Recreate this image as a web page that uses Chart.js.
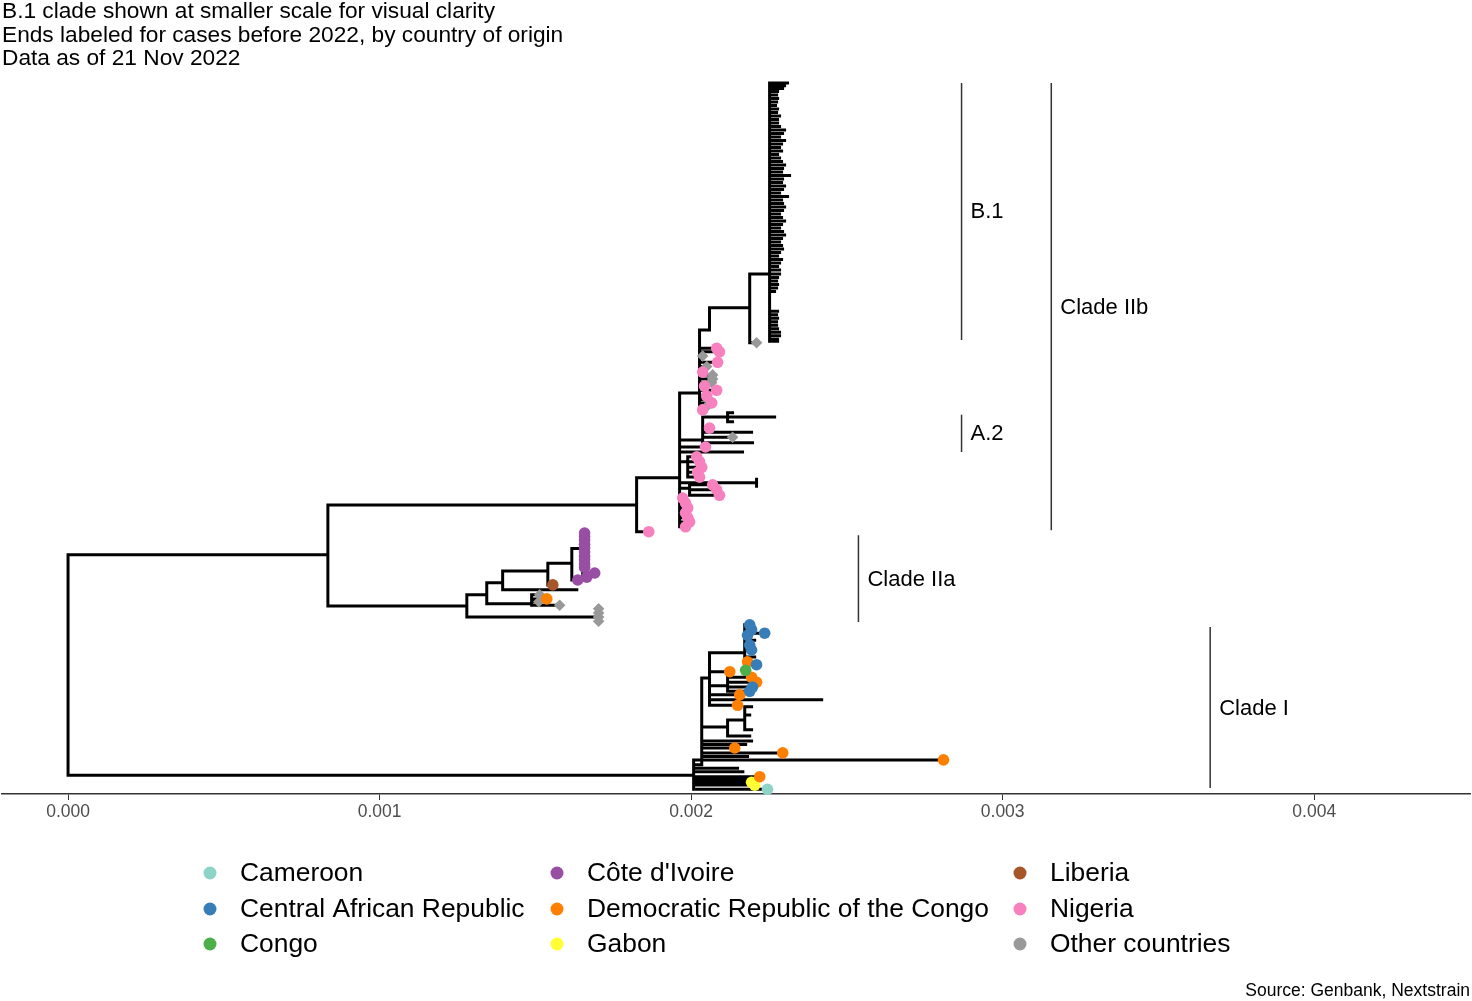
<!DOCTYPE html>
<html lang="en">
<head>
<meta charset="UTF-8">
<title>Mpox phylogeny by country of origin</title>
<style>
  body { margin: 0; background: #fff; }
  #wrap { width: 1472px; height: 1001px; }
</style>
<script src="https://cdn.jsdelivr.net/npm/chart.js"></script>
</head>
<body>
<div id="wrap"><canvas id="tree" width="1472" height="1001"></canvas></div>
<script>
// ---- text ----
const subtitleLines = [
  'B.1 clade shown at smaller scale for visual clarity',
  'Ends labeled for cases before 2022, by country of origin',
  'Data as of 21 Nov 2022'
];
const sourceText = 'Source: Genbank, Nextstrain';
const xTicks = [0, 0.001, 0.002, 0.003, 0.004];

// ---- tree: vertical connectors [x, yLow, yHigh] ----
const vLines = [
  [0, 2.1, 33.6],
  [0.000834, 26.3, 40.7],
  // clade IIa
  [0.001280, 24.7, 27.9],
  [0.001697, 24.1, 25.9],
  [0.001344, 26.6, 29.6],
  [0.001488, 26.4, 27.9],
  [0.001395, 28.6, 31.3],
  [0.001540, 29.3, 32.4],
  [0.001617, 30.0, 34.5],
  [0.001652, 30.4, 36.7],
  // clade IIb
  [0.001825, 36.9, 44.6],
  [0.001963, 37.6, 56.7],
  [0.002027, 54.3, 65.7],
  [0.002059, 65.7, 68.9],
  [0.002188, 63.9, 73.7],
  [0.0022518, 64.1, 101.0],
  [0.002037, 49.6, 53.3],
  [0.002117, 52.6, 53.9],
  [0.001989, 44.7, 47.6],
  [0.001995, 42.1, 43.6],
  [0.002210, 43.4, 44.4],
  // clade I
  [0.002008, 0.1, 4.3],
  [0.002034, 3.6, 16.0],
  [0.002117, 7.7, 10.0],
  [0.002172, 8.6, 11.9],
  [0.002059, 12.1, 19.6],
  [0.002117, 14.1, 16.1],
  [0.002172, 17.1, 23.6]
];

// ---- tree: horizontal branches [y, xStart, xEnd] ----
const hLines = [
  [33.6, 0, 0.000834],
  [2.1, 0, 0.002008],
  [40.7, 0.000834, 0.001825],
  // clade IIa
  [26.3, 0.000834, 0.001280],
  [24.7, 0.001280, 0.001697],
  [25.9, 0.001697, 0.001703], [25.3, 0.001697, 0.001703], [24.7, 0.001697, 0.001703], [24.1, 0.001697, 0.001703],
  [27.9, 0.001280, 0.001344],
  [26.6, 0.001344, 0.001488],
  [27.9, 0.001488, 0.001514], [27.3, 0.001488, 0.0015365], [26.9, 0.001488, 0.001511], [26.4, 0.001488, 0.001578],
  [29.6, 0.001344, 0.001395],
  [28.6, 0.001395, 0.001633],
  [31.3, 0.001395, 0.001540],
  [29.3, 0.001540, 0.001556],
  [32.4, 0.001540, 0.001617],
  [30.0, 0.001617, 0.001636],
  [34.5, 0.001617, 0.001652],
  [31.0, 0.001652, 0.0016905],
  [30.4, 0.001652, 0.001665],
  // clade IIb backbone
  [36.9, 0.001825, 0.001864],
  [44.6, 0.001825, 0.001963],
  [56.7, 0.001963, 0.002027],
  [65.7, 0.002027, 0.002059],
  [68.9, 0.002059, 0.002188],
  [63.9, 0.002188, 0.002210],
  [73.7, 0.002188, 0.0022518],
  // tips near the B.1 stem
  [63.1, 0.002027, 0.002082], [62.6, 0.002027, 0.002091], [62.0, 0.002027, 0.002037],
  [61.1, 0.002027, 0.002085], [60.5, 0.002027, 0.002050], [59.7, 0.002027, 0.002037],
  [59.3, 0.002027, 0.002069], [58.7, 0.002027, 0.002069], [58.2, 0.002027, 0.002066],
  [57.7, 0.002027, 0.002043], [57.1, 0.002027, 0.002082], [56.3, 0.002027, 0.002050],
  [55.8, 0.002027, 0.002053], [55.3, 0.002027, 0.002066], [54.8, 0.002027, 0.002050],
  [54.3, 0.002027, 0.002037],
  // A.2 and lower IIb
  [50.0, 0.001963, 0.002037],
  [53.3, 0.002037, 0.002268],
  [53.9, 0.002117, 0.002133], [52.6, 0.002117, 0.002133],
  [51.7, 0.002037, 0.002059],
  [51.1, 0.002037, 0.002194],
  [50.4, 0.002037, 0.002133],
  [49.6, 0.002037, 0.002197],
  [49.0, 0.001963, 0.002046],
  [48.3, 0.001963, 0.002165],
  [46.9, 0.001963, 0.001989],
  [47.6, 0.001989, 0.002018], [46.9, 0.001989, 0.002027], [46.1, 0.001989, 0.002034],
  [45.4, 0.001989, 0.002021], [44.7, 0.001989, 0.002027],
  [43.9, 0.001963, 0.002210],
  [43.1, 0.001963, 0.001995],
  [43.6, 0.001995, 0.002069], [42.9, 0.001995, 0.002082], [42.1, 0.001995, 0.002091],
  [41.7, 0.001963, 0.001973], [41.0, 0.001963, 0.001982], [40.3, 0.001963, 0.001989],
  [39.6, 0.001963, 0.001982], [38.9, 0.001963, 0.001989], [38.3, 0.001963, 0.001995],
  [37.6, 0.001963, 0.001982],
  // clade I
  [4.3, 0.002008, 0.002810],
  [3.6, 0.002008, 0.002034],
  [3.1, 0.002008, 0.002149],
  [2.6, 0.002008, 0.002166],
  [1.9, 0.002008, 0.002220],
  [1.5, 0.002008, 0.002181],
  [1.1, 0.002008, 0.002194],
  [0.7, 0.002008, 0.002204],
  [0.1, 0.002008, 0.002245],
  [5.3, 0.002034, 0.002294],
  [4.8, 0.002034, 0.002181],
  [6.0, 0.002034, 0.002140],
  [6.5, 0.002034, 0.002175],
  [7.0, 0.002034, 0.002194],
  [9.0, 0.002034, 0.002117],
  [16.0, 0.002034, 0.002059],
  [10.0, 0.002117, 0.002172],
  [7.7, 0.002117, 0.002188],
  [11.9, 0.002172, 0.002194], [10.7, 0.002172, 0.002188], [8.6, 0.002172, 0.002194],
  [12.1, 0.002059, 0.002149],
  [12.9, 0.002059, 0.002419],
  [13.6, 0.002059, 0.002156],
  [14.9, 0.002059, 0.002117],
  [16.1, 0.002117, 0.002194], [15.4, 0.002117, 0.002210], [14.7, 0.002117, 0.002197], [14.1, 0.002117, 0.002188],
  [16.9, 0.002059, 0.002124],
  [19.6, 0.002059, 0.002172],
  [23.6, 0.002172, 0.002188], [22.9, 0.002172, 0.002194], [22.4, 0.002172, 0.002236],
  [22.1, 0.002172, 0.002181], [21.4, 0.002172, 0.002204], [20.7, 0.002172, 0.002188],
  [20.0, 0.002172, 0.002194], [19.0, 0.002172, 0.002204], [18.3, 0.002172, 0.002181],
  [17.9, 0.002172, 0.002210], [17.1, 0.002172, 0.002175]
];

// B.1 tips hanging off the stem at x = 0.0022518: [y, xEnd]
const b1Stem = 0.0022518;
const b1Tips = [
  [101.0, 0.0023095], [100.6, 0.0023000], [100.2, 0.0022935], [99.8, 0.0022775],
  [99.3, 0.0022743], [98.8, 0.0022775], [98.3, 0.0022743], [97.8, 0.0022710],
  [97.3, 0.0022775], [96.8, 0.0022743], [96.3, 0.0022839], [95.8, 0.0022775],
  [95.3, 0.0022775], [94.8, 0.0022839], [94.3, 0.0023000], [93.8, 0.0022935],
  [93.3, 0.0022839], [92.8, 0.0023000], [92.3, 0.0022903], [91.8, 0.0022839],
  [91.3, 0.0022903], [90.8, 0.0022775], [90.3, 0.0022839], [89.8, 0.0022903],
  [89.3, 0.0023000], [88.8, 0.0022935], [88.3, 0.0022903], [87.8, 0.0023160],
  [87.3, 0.0022935], [86.8, 0.0022903], [86.3, 0.0023000], [85.8, 0.0022935],
  [85.3, 0.0022839], [84.8, 0.0023095], [84.3, 0.0022903], [83.8, 0.0022935],
  [83.3, 0.0023000], [82.8, 0.0022935], [82.3, 0.0022839], [81.8, 0.0022903],
  [81.3, 0.0023000], [80.8, 0.0022903], [80.3, 0.0022839], [79.8, 0.0022935],
  [79.3, 0.0023000], [78.8, 0.0022903], [78.3, 0.0022839], [77.8, 0.0022903],
  [77.3, 0.0022935], [76.8, 0.0022839], [76.3, 0.0022775], [75.8, 0.0022903],
  [75.3, 0.0022839], [74.8, 0.0022775], [74.3, 0.0022839], [73.7, 0.0022839],
  [73.2, 0.0022775], [72.7, 0.0022743], [72.2, 0.0022775], [71.7, 0.0022743],
  [71.2, 0.0022678],
  [68.4, 0.0022775], [67.9, 0.0022743], [67.4, 0.0022775], [66.9, 0.0022743],
  [66.4, 0.0022743], [65.9, 0.0022775], [65.4, 0.0022839], [64.9, 0.0022839],
  [64.4, 0.0022775], [64.1, 0.0022775]
];

// ---- tip points by country of origin [x, y] ----
const countries = ['Cameroon', 'Central African Republic', 'Congo',
  "Côte d'Ivoire", 'Democratic Republic of the Congo', 'Gabon',
  'Liberia', 'Nigeria', 'Other countries'];
const countryColors = ['#8DD3C7', '#377EB8', '#4DAF4A', '#984EA3', '#FF7F00',
  '#FFFF33', '#A65628', '#F781BF', '#999999'];

const tipsCameroon = [[0.002245, 0.1]];
const tipsCAR = [[0.002197, 14.7], [0.002188, 14.1], [0.002188, 23.6], [0.002194, 22.9],
  [0.002236, 22.4], [0.002181, 22.1], [0.002188, 20.7], [0.002194, 20.0], [0.002210, 17.9]];
const tipsCongo = [[0.002175, 17.1]];
const tipsCoteDIvoire = [[0.001636, 30.0], [0.0016905, 31.0], [0.001665, 30.4],
  [0.001658, 36.7], [0.001658, 36.2], [0.001658, 35.7], [0.001658, 35.1], [0.001658, 34.6],
  [0.001658, 34.0], [0.001658, 33.4], [0.001658, 32.9], [0.001658, 32.3], [0.001658, 31.8]];
const tipsDRC = [[0.0015365, 27.3], [0.002810, 4.3], [0.002220, 1.9], [0.002294, 5.3],
  [0.002140, 6.0], [0.002149, 12.1], [0.002156, 13.6], [0.002194, 16.1], [0.002210, 15.4],
  [0.002124, 16.9], [0.002181, 18.3]];
const tipsGabon = [[0.002194, 1.1], [0.002204, 0.7]];
const tipsLiberia = [[0.001556, 29.3]];
const tipsNigeria = [[0.001864, 36.9],
  [0.002082, 63.1], [0.002091, 62.6], [0.002085, 61.1], [0.002037, 59.7], [0.002043, 57.7],
  [0.002082, 57.1], [0.002050, 56.3], [0.002066, 55.3], [0.002037, 54.3],
  [0.002059, 51.7], [0.002046, 49.0],
  [0.002018, 47.6], [0.002027, 46.9], [0.002034, 46.1], [0.002021, 45.4], [0.002027, 44.7],
  [0.002069, 43.6], [0.002082, 42.9], [0.002091, 42.1],
  [0.001973, 41.7], [0.001982, 41.0], [0.001989, 40.3], [0.001982, 39.6], [0.001989, 38.9],
  [0.001995, 38.3], [0.001982, 37.6]];
const tipsOther = [[0.001703, 25.9], [0.001703, 25.3], [0.001703, 24.7], [0.001703, 24.1],
  [0.001514, 27.9], [0.001511, 26.9], [0.001578, 26.4],
  [0.002210, 63.9], [0.002037, 62.0], [0.002050, 60.5], [0.002069, 59.3], [0.002069, 58.7],
  [0.002066, 58.2], [0.002053, 55.8], [0.002050, 54.8], [0.002133, 50.4]];
const countryTips = [tipsCameroon, tipsCAR, tipsCongo, tipsCoteDIvoire, tipsDRC,
  tipsGabon, tipsLiberia, tipsNigeria, tipsOther];

// ---- clade brackets ----
const cladeNames = ['B.1', 'A.2', 'Clade IIb', 'Clade IIa', 'Clade I'];
const cladeX = [0.002868, 0.002868, 0.003156, 0.002537, 0.003666];
const cladeYLow = [64.3, 48.3, 37.1, 24.0, 0.3];
const cladeYHigh = [101.0, 53.6, 101.0, 36.4, 23.3];
const cladeLabelY = [82.6, 50.9, 68.9, 30.0, 11.6];

// ---- build line data (null breaks the path between segments) ----
const treeSegs = [];
vLines.forEach(([x, y0, y1]) => treeSegs.push({x: x, y: y0}, {x: x, y: y1}, {x: x, y: null}));
hLines.forEach(([y, x0, x1]) => treeSegs.push({x: x0, y: y}, {x: x1, y: y}, {x: x1, y: null}));
b1Tips.forEach(([y, x1]) => treeSegs.push({x: b1Stem, y: y}, {x: x1, y: y}, {x: x1, y: null}));

const cladeSegs = [];
cladeX.forEach((x, i) => cladeSegs.push({x: x, y: cladeYLow[i]}, {x: x, y: cladeYHigh[i]}, {x: x, y: null}));

const FONT = '"Liberation Sans", Arial, sans-serif';

const datasets = [
  {
    label: 'tree', data: treeSegs, borderColor: '#000', borderWidth: 3,
    pointRadius: 0, spanGaps: false, tension: 0, borderCapStyle: 'square',
    borderJoinStyle: 'miter', clip: false, order: 5
  },
  {
    label: 'clades', data: cladeSegs, borderColor: '#333', borderWidth: 1.5,
    pointRadius: 0, spanGaps: false, tension: 0, clip: false, order: 6
  }
];
countries.forEach((name, i) => {
  datasets.push({
    label: name,
    data: countryTips[i].map(([x, y]) => ({x: x, y: y})),
    showLine: false,
    pointRadius: 5.8,
    pointHoverRadius: 5.8,
    pointStyle: name === 'Other countries' ? 'rectRot' : 'circle',
    backgroundColor: countryColors[i],
    borderWidth: 0,
    clip: false,
    order: 1
  });
});

const textPlugin = {
  id: 'texts',
  afterDraw(chart) {
    const ctx = chart.ctx;
    const xs = chart.scales.x, ys = chart.scales.y;
    ctx.save();
    ctx.fillStyle = '#000';
    ctx.textAlign = 'left';
    ctx.textBaseline = 'alphabetic';
    ctx.font = '22.7px ' + FONT;
    subtitleLines.forEach((t, i) => ctx.fillText(t, 2, 18 + i * 23.5));

    // clade labels next to their brackets
    ctx.font = '22px ' + FONT;
    ctx.textBaseline = 'middle';
    cladeNames.forEach((n, i) => {
      ctx.fillText(n, xs.getPixelForValue(cladeX[i]) + 9, ys.getPixelForValue(cladeLabelY[i]));
    });

    // legend: three columns, filled column by column
    const colX = [210, 557, 1020];
    const rowY = [873, 909, 944];
    ctx.font = '26.4px ' + FONT;
    countries.forEach((name, i) => {
      const cx = colX[Math.floor(i / 3)], cy = rowY[i % 3];
      ctx.fillStyle = countryColors[i];
      ctx.beginPath();
      ctx.arc(cx, cy, 6.5, 0, Math.PI * 2);
      ctx.fill();
      ctx.fillStyle = '#000';
      ctx.fillText(name, cx + 30, cy + 1);
    });

    ctx.font = '17.5px ' + FONT;
    ctx.textAlign = 'right';
    ctx.fillText(sourceText, 1470, 991);
    ctx.restore();
  }
};

new Chart(document.getElementById('tree'), {
  type: 'line',
  data: { datasets: datasets },
  options: {
    responsive: false,
    animation: false,
    events: [],
    layout: { autoPadding: false, padding: { top: 76, left: 2, right: 2, bottom: 167 } },
    plugins: { legend: { display: false }, tooltip: { enabled: false } },
    scales: {
      x: {
        type: 'linear',
        min: -0.000212,
        max: 0.0045,
        afterBuildTicks: (scale) => { scale.ticks = xTicks.map(v => ({ value: v })); },
        afterFit: (scale) => { scale.height = 40; },
        grid: { display: true, drawOnChartArea: false, drawTicks: true, tickLength: 6, color: '#333', lineWidth: 1 },
        border: { display: true, color: '#333', width: 1.5 },
        ticks: {
          color: '#4D4D4D',
          padding: 2,
          font: { family: FONT, size: 17.5 },
          maxRotation: 0,
          callback: (v) => Number(v).toFixed(3)
        }
      },
      y: {
        type: 'linear',
        display: false,
        min: -0.57,
        max: 102
      }
    }
  },
  plugins: [textPlugin]
});
</script>
</body>
</html>
